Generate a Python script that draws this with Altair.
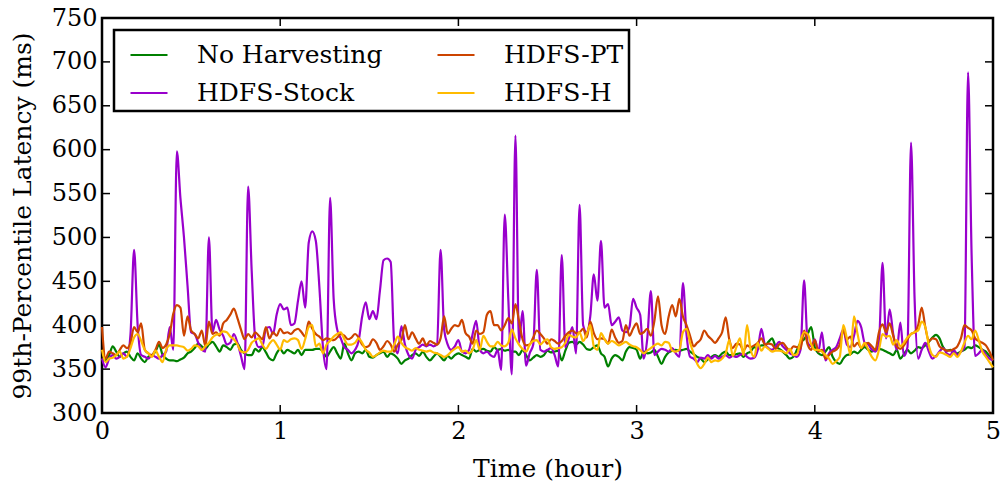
import altair as alt
import pandas as pd

# ---------------- data ----------------
TIME = [round(i * 0.02, 2) for i in range(251)]  # hours, 1.2-min samples

NO_HARVESTING = [
    362, 360, 366, 376, 370, 364, 368, 370, 364, 360,
    368, 362, 358, 364, 366, 370, 378, 366, 362, 360,
    360, 359, 361, 363, 368, 370, 374, 379, 376, 373,
    378, 381, 376, 370, 377, 375, 372, 378, 379, 372,
    368, 366, 366, 373, 370, 375, 369, 362, 360, 368,
    373, 368, 372, 370, 368, 372, 366, 372, 372, 372,
    373, 373, 370, 364, 370, 375, 368, 362, 379, 368,
    360, 368, 370, 368, 372, 364, 363, 366, 368, 370,
    364, 368, 366, 362, 356, 360, 362, 366, 368, 365,
    370, 364, 360, 364, 368, 364, 360, 365, 362, 366,
    368, 366, 364, 362, 373, 370, 372, 373, 371, 370,
    375, 372, 373, 371, 372, 370, 370, 366, 372, 366,
    360, 363, 366, 364, 366, 371, 369, 370, 371, 360,
    371, 380, 381, 378, 381, 378, 373, 372, 375, 377,
    368, 364, 353, 362, 366, 364, 360, 370, 375, 374,
    372, 362, 370, 368, 369, 372, 364, 356, 364, 369,
    371, 372, 371, 372, 373, 370, 367, 364, 362, 358,
    361, 364, 366, 364, 368, 370, 366, 366, 367, 368,
    364, 368, 370, 375, 373, 377, 377, 381, 385, 376,
    373, 370, 366, 362, 364, 372, 380, 384, 390, 398,
    375, 368, 366, 370, 375, 364, 358, 356, 362, 366,
    367, 370, 368, 372, 375, 372, 370, 372, 373, 372,
    370, 368, 366, 372, 362, 367, 372, 368, 371, 375,
    374, 377, 381, 386, 389, 385, 375, 371, 372, 370,
    368, 370, 372, 375, 374, 377, 375, 372, 370, 365,
    362,
]

HDFS_STOCK = [
    362, 352, 362, 366, 362, 364, 368, 364, 390, 486,
    400, 366, 364, 362, 366, 364, 362, 366, 370, 398,
    372, 598, 545, 500, 445, 392, 390, 380, 372, 370,
    500, 392, 406, 395, 388, 378, 380, 390, 380, 365,
    350, 558, 462, 385, 375, 376, 396, 398, 390, 412,
    424, 418, 420, 400, 402, 428, 450, 420, 494, 507,
    496, 443, 375, 350, 545, 430, 395, 385, 375, 372,
    368, 372, 382, 410, 426, 407, 416, 407, 440, 474,
    476, 472, 380, 368, 399, 378, 366, 362, 372, 375,
    378, 376, 378, 376, 378, 486, 395, 378, 372, 376,
    383, 370, 368, 372, 390, 405, 372, 368, 370, 366,
    364, 372, 349, 526, 430, 344, 616, 380, 416, 354,
    368, 378, 463, 372, 370, 372, 374, 366, 353, 480,
    375, 385, 398, 368, 537, 400, 392, 410, 458, 428,
    496, 420, 424, 400, 404, 409, 394, 392, 398, 430,
    420, 412, 362, 385, 439, 366, 370, 373, 372, 370,
    374, 368, 364, 448, 390, 364, 362, 358, 363, 362,
    366, 362, 365, 362, 364, 366, 363, 365, 364, 366,
    368, 364, 362, 363, 372, 396, 378, 374, 372, 376,
    381, 376, 372, 368, 366, 364, 372, 451, 380, 376,
    384, 370, 392, 360, 368, 372, 375, 385, 395, 378,
    375, 388, 405, 398, 380, 378, 372, 370, 380, 471,
    385, 418, 390, 372, 403, 365, 375, 608, 430, 362,
    372, 380, 370, 362, 365, 370, 374, 368, 366, 372,
    366, 370, 375, 688, 480, 365, 368, 372, 366, 362,
    360,
]

HDFS_PT = [
    398, 362, 370, 368, 366, 372, 377, 374, 380, 398,
    392, 402, 372, 368, 366, 372, 381, 374, 378, 390,
    413, 423, 420, 388, 410, 394, 390, 385, 394, 376,
    404, 390, 392, 388, 402, 406, 412, 419, 408, 395,
    384, 390, 386, 392, 388, 384, 398, 385, 392, 388,
    396, 391, 392, 390, 394, 396, 392, 387, 404, 396,
    390, 387, 383, 385, 384, 383, 386, 390, 388, 384,
    386, 390, 386, 378, 375, 377, 384, 380, 372, 376,
    382, 378, 370, 378, 383, 400, 384, 392, 385, 379,
    385, 377, 382, 380, 378, 385, 410, 390, 396, 400,
    399, 406, 391, 387, 379, 394, 390, 392, 412, 416,
    400, 400, 394, 400, 408, 402, 424, 405, 384, 377,
    378, 386, 394, 390, 385, 379, 384, 382, 379, 382,
    388, 392, 394, 391, 392, 396, 386, 404, 391, 384,
    385, 384, 379, 395, 386, 380, 382, 400, 388, 396,
    402, 390, 392, 396, 388, 405, 433, 400, 390, 410,
    423, 410, 430, 410, 400, 388, 376, 380, 384, 394,
    388, 384, 380, 385, 392, 409, 384, 374, 379, 378,
    371, 377, 375, 377, 380, 385, 378, 379, 378, 373,
    378, 380, 375, 371, 376, 375, 373, 394, 378, 372,
    383, 370, 372, 362, 366, 370, 372, 378, 394, 384,
    387, 376, 380, 374, 378, 380, 376, 372, 392, 401,
    392, 402, 388, 376, 373, 377, 384, 390, 392, 400,
    420, 398, 382, 385, 384, 376, 373, 371, 371, 373,
    376, 385, 400, 397, 394, 385, 382, 380, 377, 370,
    360,
]

HDFS_H = [
    372, 358, 362, 363, 366, 370, 362, 364, 374, 386,
    390, 382, 372, 368, 364, 371, 364, 358, 372, 377,
    377, 377, 376, 375, 371, 373, 377, 376, 372, 376,
    380, 386, 389, 390, 393, 392, 387, 384, 378, 370,
    369, 372, 380, 383, 385, 378, 373, 379, 383, 378,
    372, 383, 381, 384, 385, 383, 373, 384, 398, 400,
    376, 379, 368, 378, 382, 387, 390, 392, 384, 378,
    378, 380, 385, 380, 372, 369, 364, 366, 369, 371,
    370, 370, 378, 387, 380, 375, 373, 371, 374, 372,
    371, 370, 371, 369, 368, 366, 364, 366, 370, 373,
    375, 370, 371, 368, 372, 383, 372, 388, 381, 376,
    376, 381, 377, 376, 380, 395, 385, 378, 373, 370,
    378, 382, 383, 378, 382, 384, 375, 373, 374, 375,
    380, 389, 387, 386, 392, 382, 390, 400, 376, 372,
    391, 384, 379, 382, 380, 377, 379, 381, 378, 376,
    375, 372, 368, 371, 374, 377, 379, 377, 381, 380,
    371, 370, 372, 392, 396, 380, 368, 356, 351, 356,
    363, 358, 360, 359, 362, 368, 383, 365, 375, 385,
    366, 400, 372, 364, 380, 371, 376, 373, 370, 371,
    371, 370, 368, 373, 366, 367, 383, 392, 390, 378,
    372, 372, 370, 366, 362, 356, 359, 364, 400, 385,
    366, 410, 390, 374, 380, 372, 364, 360, 372, 390,
    387, 388, 378, 383, 376, 380, 386, 390, 392, 394,
    404, 398, 377, 366, 364, 369, 368, 366, 364, 368,
    364, 370, 380, 388, 384, 394, 383, 370, 364, 358,
    352,
]

SERIES_NAMES = ["No Harvesting", "HDFS-Stock", "HDFS-PT", "HDFS-H"]
SERIES_VALUES = [NO_HARVESTING, HDFS_STOCK, HDFS_PT, HDFS_H]
SERIES_COLORS = ["#008000", "#9900cc", "#cc4400", "#ffbb00"]

X_TICKS = [0, 1, 2, 3, 4, 5]
Y_TICKS = [300, 350, 400, 450, 500, 550, 600, 650, 700, 750]

for v in SERIES_VALUES:
    assert len(v) == len(TIME), len(v)

# ---------------- chart ----------------
W, H = 891, 395
FONT = "DejaVu Serif"
FS_TICK = 24
FS_TEXT = 25
TICK = 8

x_scale = alt.Scale(domain=[0, 5], nice=False, zero=False)
y_scale = alt.Scale(domain=[300, 750], nice=False, zero=False)
color_scale = alt.Scale(domain=SERIES_NAMES, range=SERIES_COLORS)

x_axis = alt.Axis(values=X_TICKS, title="Time (hour)", grid=False, ticks=False,
                  domain=False, format="d", labelFont=FONT, labelFontSize=FS_TICK,
                  labelColor="black", labelPadding=6, titleFont=FONT,
                  titleFontSize=FS_TEXT, titleFontWeight="normal",
                  titleColor="black", titlePadding=13, labelFlush=False)
y_axis = alt.Axis(values=Y_TICKS, title="99th-Percentile Latency (ms)", grid=False,
                  ticks=False, domain=False, format="d", labelFont=FONT,
                  labelFontSize=FS_TICK, labelColor="black", labelPadding=5,
                  titleFont=FONT, titleFontSize=FS_TEXT, titleFontWeight="normal",
                  titleColor="black", titlePadding=16, labelFlush=False)
legend = alt.Legend(title=None, orient="top-left", columns=2, offset=12,
                    padding=5, fillColor="white", strokeColor="black",
                    cornerRadius=0, symbolType="stroke",
                    symbolSize=1369, symbolStrokeWidth=2.2, labelFont=FONT,
                    labelFontSize=FS_TEXT, labelColor="black", labelOffset=28,
                    columnPadding=43, rowPadding=5, labelLimit=0,
                    symbolOffset=10)

layers = []
for name, vals in zip(SERIES_NAMES, SERIES_VALUES):
    df = pd.DataFrame({"t": TIME, "latency": vals, "series": name})
    layers.append(
        alt.Chart(df).mark_line(strokeWidth=2.2, interpolate="monotone").encode(
            x=alt.X("t:Q", scale=x_scale, axis=x_axis),
            y=alt.Y("latency:Q", scale=y_scale, axis=y_axis),
            color=alt.Color("series:N", scale=color_scale, legend=legend),
        )
    )

xt = pd.DataFrame({"t": X_TICKS})
yt = pd.DataFrame({"latency": Y_TICKS})
rule = dict(color="black", strokeWidth=1.5)
layers += [
    alt.Chart(xt).mark_rule(**rule).encode(
        x=alt.X("t:Q", scale=x_scale, axis=x_axis),
        y=alt.value(H), y2=alt.value(H - TICK)),
    alt.Chart(xt).mark_rule(**rule).encode(
        x=alt.X("t:Q", scale=x_scale, axis=x_axis),
        y=alt.value(0), y2=alt.value(TICK)),
    alt.Chart(yt).mark_rule(**rule).encode(
        y=alt.Y("latency:Q", scale=y_scale, axis=y_axis),
        x=alt.value(0), x2=alt.value(TICK)),
    alt.Chart(yt).mark_rule(**rule).encode(
        y=alt.Y("latency:Q", scale=y_scale, axis=y_axis),
        x=alt.value(W), x2=alt.value(W - TICK)),
]

chart = alt.layer(*layers).properties(
    width=W, height=H,
    autosize=alt.AutoSizeParams(type="none"),
    padding={"left": 102, "top": 18, "right": 10, "bottom": 72},
    background="white",
).configure_view(stroke="black", strokeWidth=2.5).configure_legend(strokeWidth=2.5)

chart.save("out.html", embed_options={"renderer": "svg", "actions": False})
